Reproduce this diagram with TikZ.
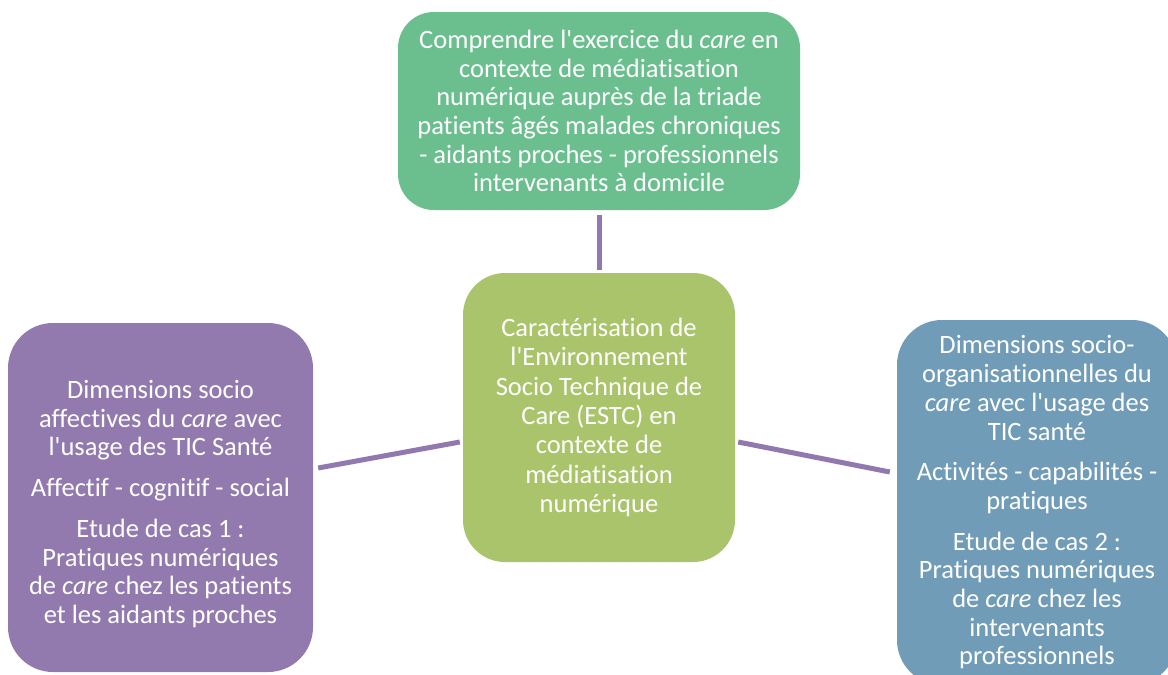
\documentclass[tikz,border=0pt]{standalone}
\usepackage{fontspec}
\setmainfont{Carlito}[Ligatures=NoCommon]
\usepackage{tikz}

\definecolor{goalgreen}{RGB}{107,191,143}
\definecolor{estcgreen}{RGB}{169,196,107}
\definecolor{affectpurple}{RGB}{146,122,174}
\definecolor{orgablue}{RGB}{112,156,184}
\definecolor{linkpurple}{RGB}{145,120,175}

\tikzset{
    bubble/.style={text=white, align=center, inner sep=0pt,
        font=\fontsize{26.5}{28.7}\selectfont},
    link/.style={draw=linkpurple, line width=5pt}
}

\begin{document}
\begin{tikzpicture}[x=1pt,y=-1pt]
\fill[white] (0,0) rectangle (1168,675);
\useasboundingbox (0,0) rectangle (1168,675);

\node[bubble, fill=goalgreen, minimum width=402pt, minimum height=198pt,
      rounded corners=36pt] (goal) at (599,111)
    {Comprendre l\textquotesingle exercice du \textit{care} en\\
     contexte de médiatisation\\
     numérique auprès de la triade\\
     patients âgés malades chroniques\\
     - aidants proches - professionnels\\
     intervenants à domicile};

\node[bubble, fill=estcgreen, minimum width=272pt, minimum height=289pt,
      rounded corners=42pt, font=\fontsize{26.5}{29.3}\selectfont] (estc) at (599,417.5)
    {Caractérisation de\\
     l\textquotesingle Environnement\\
     Socio Technique de\\
     Care (ESTC) en\\
     contexte de\\
     médiatisation\\
     numérique};

\node[bubble, fill=affectpurple, minimum width=305pt, minimum height=349pt,
      rounded corners=45pt] (affect) at (160.5,497.5)
    {\mbox{}\\[2.5pt]
     Dimensions socio\\
     affectives du \textit{care} avec\\
     l\textquotesingle usage des TIC Santé\\[12pt]
     Affectif - cognitif - social\\[12pt]
     Etude de cas 1 :\\
     Pratiques numériques\\
     de \textit{care} chez les patients\\
     et les aidants proches};

\node[bubble, fill=orgablue, minimum width=280pt, minimum height=365pt,
      rounded corners=45pt] (orga) at (1037,502.5)
    {Dimensions socio-\\
     organisationnelles du\\
     \textit{care} avec l\textquotesingle usage des\\
     TIC santé\\[12pt]
     Activités - capabilités -\\
     pratiques\\[12pt]
     Etude de cas 2 :\\
     Pratiques numériques\\
     de \textit{care} chez les\\
     intervenants\\
     professionnels};

% liens vers le centre
\draw[link] ([shift={(0,5)}]goal.south) -- ([shift={(0,-3)}]estc.north);
\draw[link] ([shift={(5,-29.5)}]affect.east) -- ([shift={(-3,24.5)}]estc.west);
\draw[link] ([shift={(3,24.5)}]estc.east) -- ([shift={(-7,-30.5)}]orga.west);
\end{tikzpicture}
\end{document}
